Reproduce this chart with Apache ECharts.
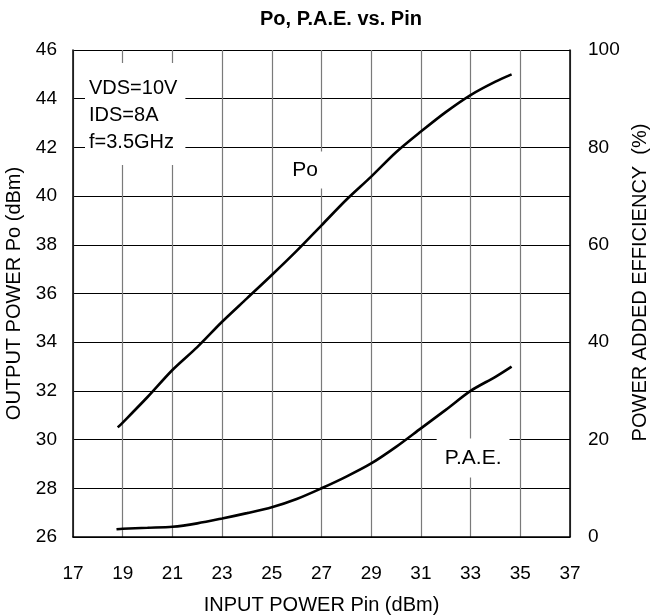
<!DOCTYPE html>
<html>
<head>
<meta charset="utf-8">
<script src="https://cdn.jsdelivr.net/npm/echarts@6/dist/echarts.min.js"></script>
<style>html,body{margin:0;padding:0;background:#fff}#c{width:651px;height:616px}</style>
</head>
<body>
<div id="c"></div>
<script>
// Data
const poPin = [18.8, 19, 20, 21, 22, 23, 24, 25, 26, 27, 28, 29, 30, 31, 32, 33, 34, 34.65];
const po    = [30.5, 30.7, 31.75, 32.86, 33.8, 34.84, 35.8, 36.76, 37.75, 38.8, 39.85, 40.8, 41.8, 42.65, 43.45, 44.15, 44.7, 45.0];
const paePin = [18.75, 19, 20, 21, 22, 23, 24, 25, 26, 27, 28, 29, 30, 31, 32, 33, 34, 34.65];
const pae    = [1.6, 1.7, 1.9, 2.1, 2.8, 3.8, 4.9, 6.1, 7.8, 10.0, 12.4, 15.1, 18.5, 22.3, 26.1, 30.0, 32.9, 35.0];
const xTicks = [17, 19, 21, 23, 25, 27, 29, 31, 33, 35, 37];
const leftTicks = [26, 28, 30, 32, 34, 36, 38, 40, 42, 44, 46];
const rightTicks = [0, 20, 40, 60, 80, 100];
const conditions = ['VDS=10V', 'IDS=8A', 'f=3.5GHz'];

const FONT = 'Liberation Sans, Arial, sans-serif';
const chart = echarts.init(document.getElementById('c'), null, {renderer: 'canvas'});

const toPairs = (xs, ys) => xs.map((x, i) => [x, ys[i]]);

chart.setOption({
  animation: false,
  backgroundColor: '#fff',
  title: {
    text: 'Po, P.A.E. vs. Pin',
    left: 255, top: 4,
    textStyle: {fontFamily: FONT, fontSize: 20, fontWeight: 'bold', color: '#000'}
  },
  grid: {left: 73, right: 81, top: 50, bottom: 79, containLabel: false, outerBoundsMode: 'none'},
  xAxis: {
    type: 'value', min: xTicks[0], max: xTicks[xTicks.length - 1], interval: 2,
    name: 'INPUT POWER Pin (dBm)', nameLocation: 'middle', nameGap: 58,
    nameTextStyle: {fontFamily: FONT, fontSize: 20, color: '#000'},
    axisLine: {show: true, lineStyle: {color: '#000', width: 1.5}},
    axisTick: {show: false},
    axisLabel: {fontFamily: FONT, fontSize: 19, color: '#000', margin: 27},
    splitLine: {show: true, lineStyle: {color: '#7a7a7a', width: 1.2}}
  },
  yAxis: [{
    type: 'value', min: leftTicks[0], max: leftTicks[leftTicks.length - 1], interval: 2,
    name: 'OUTPUT POWER Po (dBm)', nameLocation: 'middle', nameGap: 49,
    nameTextStyle: {fontFamily: FONT, fontSize: 20, color: '#000'},
    axisLine: {show: true, lineStyle: {color: '#000', width: 1.5}},
    axisTick: {show: false},
    axisLabel: {fontFamily: FONT, fontSize: 19, color: '#000', margin: 16},
    splitLine: {show: true, lineStyle: {color: '#000', width: 1.2}}
  }, {
    type: 'value', min: rightTicks[0], max: rightTicks[rightTicks.length - 1], interval: 20,
    position: 'right',
    name: 'POWER ADDED EFFICIENCY  (%)', nameLocation: 'middle', nameGap: 52,
    nameTextStyle: {fontFamily: FONT, fontSize: 20, color: '#000', padding: [0, 0, 0, 22]},
    axisLine: {show: true, lineStyle: {color: '#000', width: 1.5}},
    axisTick: {show: false},
    axisLabel: {fontFamily: FONT, fontSize: 19, color: '#000', margin: 18},
    splitLine: {show: false}
  }],
  series: [{
    name: 'Po', type: 'line', yAxisIndex: 0, data: toPairs(poPin, po),
    showSymbol: false, smooth: 0.3,
    lineStyle: {color: '#000', width: 2.6}
  }, {
    name: 'P.A.E.', type: 'line', yAxisIndex: 1, data: toPairs(paePin, pae),
    showSymbol: false, smooth: 0.3,
    lineStyle: {color: '#000', width: 2.6}
  }]
});

const poLbl = chart.convertToPixel({xAxisIndex: 0, yAxisIndex: 0}, [26.34, 41.07]);
const paeLbl = chart.convertToPixel({xAxisIndex: 0, yAxisIndex: 1}, [33.1, 16.2]);

chart.setOption({
  graphic: [{
    type: 'text', left: 85, top: 63, z: 100,
    style: {
      text: conditions.join('\n'), font: '20px ' + FONT, fill: '#000',
      lineHeight: 27, backgroundColor: '#fff', padding: [12, 8, 9, 4]
    }
  }, {
    type: 'text', x: poLbl[0], y: poLbl[1], z: 100,
    style: {
      text: 'Po', font: '21px ' + FONT, fill: '#000', align: 'center', verticalAlign: 'middle',
      backgroundColor: '#fff', padding: [8, 10]
    }
  }, {
    type: 'text', x: paeLbl[0], y: paeLbl[1], z: 100,
    style: {
      text: 'P.A.E.', font: '21px ' + FONT, fill: '#000', align: 'center', verticalAlign: 'middle',
      backgroundColor: '#fff', padding: [9, 8]
    }
  }]
});
</script>
</body>
</html>
